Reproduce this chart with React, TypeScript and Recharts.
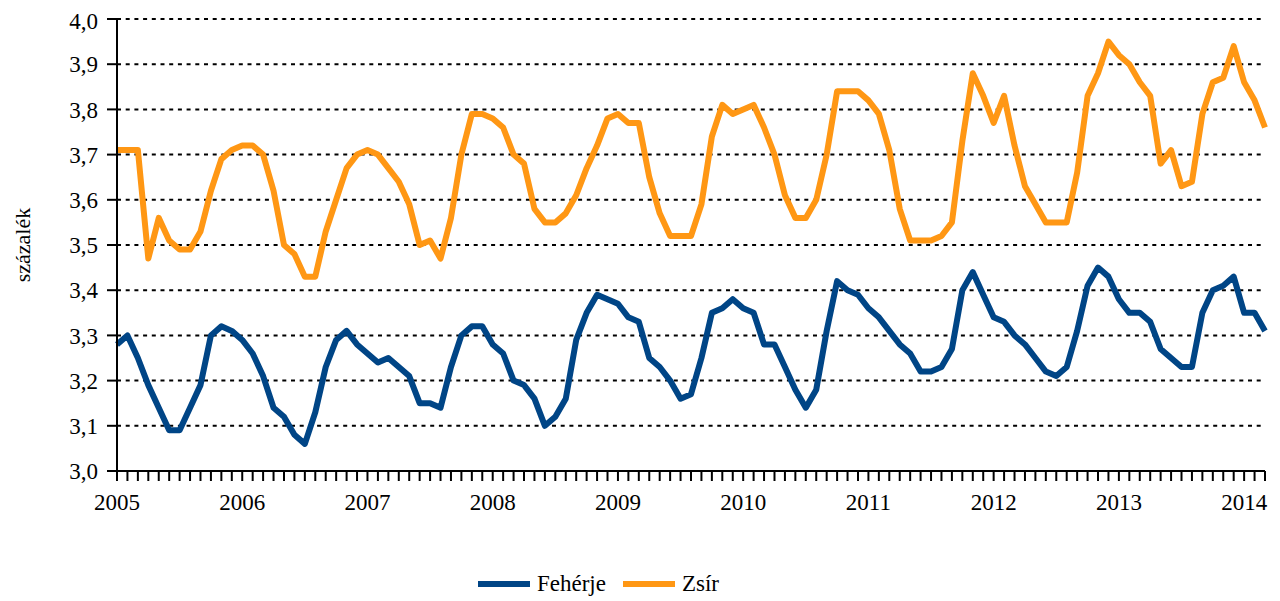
import { LineChart, Line, XAxis, YAxis, CartesianGrid, Legend } from "recharts"

const years = ["2005", "2006", "2007", "2008", "2009", "2010", "2011", "2012", "2013", "2014"]
const monthNums = ["01", "02", "03", "04", "05", "06", "07", "08", "09", "10", "11", "12"]

// monthly categories, 2005-01 .. 2014-03
const months: string[] = []
years.forEach((y) => monthNums.forEach((m) => months.push(`${y}-${m}`)))
months.splice(111)

const feherje = [
  3.28, 3.3, 3.25, 3.19, 3.14, 3.09, 3.09, 3.14, 3.19, 3.3, 3.32, 3.31,
  3.29, 3.26, 3.21, 3.14, 3.12, 3.08, 3.06, 3.13, 3.23, 3.29, 3.31, 3.28,
  3.26, 3.24, 3.25, 3.23, 3.21, 3.15, 3.15, 3.14, 3.23, 3.3, 3.32, 3.32,
  3.28, 3.26, 3.2, 3.19, 3.16, 3.1, 3.12, 3.16, 3.29, 3.35, 3.39, 3.38,
  3.37, 3.34, 3.33, 3.25, 3.23, 3.2, 3.16, 3.17, 3.25, 3.35, 3.36, 3.38,
  3.36, 3.35, 3.28, 3.28, 3.23, 3.18, 3.14, 3.18, 3.31, 3.42, 3.4, 3.39,
  3.36, 3.34, 3.31, 3.28, 3.26, 3.22, 3.22, 3.23, 3.27, 3.4, 3.44, 3.39,
  3.34, 3.33, 3.3, 3.28, 3.25, 3.22, 3.21, 3.23, 3.31, 3.41, 3.45, 3.43,
  3.38, 3.35, 3.35, 3.33, 3.27, 3.25, 3.23, 3.23, 3.35, 3.4, 3.41, 3.43,
  3.35, 3.35, 3.31,
]

const zsir = [
  3.71, 3.71, 3.71, 3.47, 3.56, 3.51, 3.49, 3.49, 3.53, 3.62, 3.69, 3.71,
  3.72, 3.72, 3.7, 3.62, 3.5, 3.48, 3.43, 3.43, 3.53, 3.6, 3.67, 3.7,
  3.71, 3.7, 3.67, 3.64, 3.59, 3.5, 3.51, 3.47, 3.56, 3.7, 3.79, 3.79,
  3.78, 3.76, 3.7, 3.68, 3.58, 3.55, 3.55, 3.57, 3.61, 3.67, 3.72, 3.78,
  3.79, 3.77, 3.77, 3.65, 3.57, 3.52, 3.52, 3.52, 3.59, 3.74, 3.81, 3.79,
  3.8, 3.81, 3.76, 3.7, 3.61, 3.56, 3.56, 3.6, 3.7, 3.84, 3.84, 3.84,
  3.82, 3.79, 3.71, 3.58, 3.51, 3.51, 3.51, 3.52, 3.55, 3.73, 3.88, 3.83,
  3.77, 3.83, 3.72, 3.63, 3.59, 3.55, 3.55, 3.55, 3.66, 3.83, 3.88, 3.95,
  3.92, 3.9, 3.86, 3.83, 3.68, 3.71, 3.63, 3.64, 3.79, 3.86, 3.87, 3.94,
  3.86, 3.82, 3.76,
]

const yTicks = [3.0, 3.1, 3.2, 3.3, 3.4, 3.5, 3.6, 3.7, 3.8, 3.9, 4.0]

const seriesInfo = [
  { key: "feherje", name: "Fehérje", color: "#004586" },
  { key: "zsir", name: "Zsír", color: "#ff9714" },
]

const data = months.map((m, i) => ({ month: m, feherje: feherje[i], zsir: zsir[i] }))

const font = "'Liberation Serif', 'Times New Roman', serif"

const renderLegend = () => (
  <div style={{ display: "flex", alignItems: "center", paddingLeft: 470, fontFamily: font, fontSize: 23 }}>
    {seriesInfo.map((s) => (
      <div key={s.key} style={{ display: "flex", alignItems: "center", marginRight: 17 }}>
        <span style={{ display: "inline-block", width: 52, height: 6, background: s.color, marginRight: 7 }} />
        <span>{s.name}</span>
      </div>
    ))}
  </div>
)

export default function App() {
  return (
    <LineChart
      width={1272}
      height={593}
      data={data}
      margin={{ top: 11, right: 15, bottom: 4, left: 0 }}
      style={{ fontFamily: font }}
    >
      <CartesianGrid
        vertical={false}
        stroke="#000"
        strokeWidth={2}
        strokeDasharray="4 4.7"
      />
      <XAxis
        dataKey="month"
        interval={0}
        height={100}
        tickFormatter={(m: string) => (m.endsWith("-01") ? m.slice(0, 4) : "")}
        tick={{ fill: "#000", fontSize: 23, fontFamily: font }}
        tickSize={10}
        tickMargin={13}
        axisLine={{ stroke: "#000", strokeWidth: 2 }}
        tickLine={{ stroke: "#000", strokeWidth: 2 }}
      />
      <YAxis
        type="number"
        domain={[3, 4]}
        ticks={yTicks}
        width={109}
        tickFormatter={(v: number) => v.toFixed(1).replace(".", ",")}
        tick={{ fill: "#000", fontSize: 23, fontFamily: font }}
        tickSize={10}
        tickMargin={9}
        axisLine={{ stroke: "#000", strokeWidth: 2 }}
        tickLine={{ stroke: "#000", strokeWidth: 2 }}
        label={{
          value: "százalék",
          angle: -90,
          position: "insideLeft",
          offset: 14,
          style: { textAnchor: "middle", fill: "#000", fontSize: 22, fontFamily: font },
        }}
      />
      <Legend verticalAlign="bottom" content={renderLegend} />
      {seriesInfo.map((s) => (
        <Line
          key={s.key}
          type="linear"
          dataKey={s.key}
          name={s.name}
          stroke={s.color}
          strokeWidth={6}
          strokeLinejoin="round"
          dot={false}
          activeDot={false}
          isAnimationActive={false}
        />
      ))}
    </LineChart>
  )
}
